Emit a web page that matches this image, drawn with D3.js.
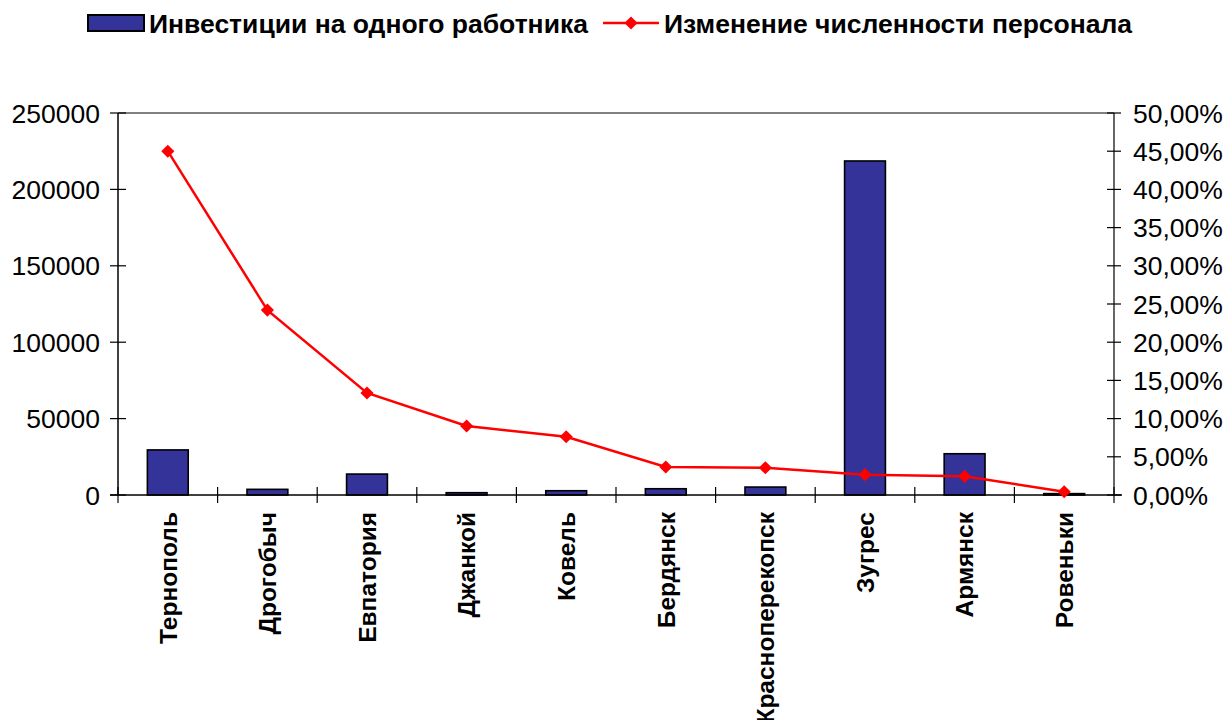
<!DOCTYPE html>
<html>
<head>
<meta charset="utf-8">
<script src="https://cdn.jsdelivr.net/npm/d3@7"></script>
<style>
body{margin:0;background:#fff;}
svg text{font-family:"Liberation Sans",Arial,sans-serif;fill:#000;}
</style>
</head>
<body>
<svg id="chart" width="1227" height="720"></svg>
<script>
// data
const cities = ['Тернополь','Дрогобыч','Евпатория','Джанкой','Ковель','Бердянск','Красноперекопск','Зугрес','Армянск','Ровеньки'];
const invest = [29500, 3700, 13700, 1500, 2800, 4100, 5200, 218600, 27000, 900];
const staffChange = [0.450, 0.242, 0.1335, 0.0903, 0.0763, 0.0366, 0.0357, 0.0266, 0.0244, 0.0043];
const leftTicks = [0, 50000, 100000, 150000, 200000, 250000];
const rightTicks = [0,0.05,0.10,0.15,0.20,0.25,0.30,0.35,0.40,0.45,0.50];

const svg = d3.select('#chart');
const m = {l:118, r:1114, t:113, b:495};

const x = d3.scaleBand().domain(cities).range([m.l, m.r]).paddingInner(0).paddingOuter(0);
const yL = d3.scaleLinear().domain([0,250000]).range([m.b, m.t]);
const yR = d3.scaleLinear().domain([0,0.5]).range([m.b, m.t]);

//plot frame top
svg.append('line').attr('x1',m.l).attr('x2',m.r).attr('y1',m.t).attr('y2',m.t)
	.attr('stroke','#808080').attr('stroke-width',2);

//bars
const bw = x.bandwidth()*0.41;
svg.append('g').selectAll('rect').data(invest).enter().append('rect')
	.attr('x',(d,i)=>x(cities[i])+x.bandwidth()/2-bw/2)
	.attr('y',d=>yL(d))
	.attr('width',bw)
	.attr('height',d=>m.b-yL(d))
	.attr('fill','#333399').attr('stroke','#000').attr('stroke-width',1.6);

//axes
const fmtL = d=>d3.format('d')(d);
const fmtR = d=>d3.format('.2f')(d*100).replace('.',',')+'%';

const gL = svg.append('g').attr('transform',`translate(${m.l},0)`);
gL.append('line').attr('y1',m.t).attr('y2',m.b).attr('stroke','#000').attr('stroke-width',1.5);
gL.selectAll('.t').data(leftTicks).enter().append('line')
	.attr('x1',-8).attr('x2',8).attr('y1',d=>yL(d)).attr('y2',d=>yL(d)).attr('stroke','#000').attr('stroke-width',1.2);
gL.selectAll('text').data(leftTicks).enter().append('text')
	.attr('x',-18).attr('y',d=>yL(d)).attr('dy','0.36em').attr('text-anchor','end')
	.style('font-size','26.5px').text(fmtL);

const gR = svg.append('g').attr('transform',`translate(${m.r},0)`);
gR.append('line').attr('y1',m.t).attr('y2',m.b).attr('stroke','#333').attr('stroke-width',1.5);
gR.selectAll('.t').data(rightTicks).enter().append('line')
	.attr('x1',-7).attr('x2',7).attr('y1',d=>yR(d)).attr('y2',d=>yR(d)).attr('stroke','#000').attr('stroke-width',1.2);
gR.selectAll('text').data(rightTicks).enter().append('text')
	.attr('x',19).attr('y',d=>yR(d)).attr('dy','0.36em').attr('text-anchor','start')
	.style('font-size','26.5px').text(fmtR);

//category axis
svg.append('line').attr('x1',m.l-8).attr('x2',m.r+8).attr('y1',m.b).attr('y2',m.b).attr('stroke','#000').attr('stroke-width',1.5);
svg.append('g').selectAll('line').data(d3.range(cities.length+1)).enter().append('line')
	.attr('x1',i=>m.l+i*x.bandwidth()).attr('x2',i=>m.l+i*x.bandwidth())
	.attr('y1',m.b-8).attr('y2',m.b+8).attr('stroke','#000').attr('stroke-width',1.2);
svg.append('g').selectAll('text').data(cities).enter().append('text')
	.attr('transform',d=>`translate(${x(d)+x.bandwidth()/2},${m.b+17}) rotate(-90)`)
	.attr('text-anchor','end').attr('dy','0.36em')
	.style('font-size','24.5px').style('font-weight','bold').text(d=>d);

//line series on right axis
const line = d3.line().x((d,i)=>x(cities[i])+x.bandwidth()/2).y(d=>yR(d));
svg.append('path').datum(staffChange).attr('d',line)
	.attr('fill','none').attr('stroke','#ff0000').attr('stroke-width',2.5);
const diamond = d3.symbol().type(d3.symbolDiamond2).size(110);
svg.append('g').selectAll('path').data(staffChange).enter().append('path')
	.attr('d',diamond)
	.attr('transform',(d,i)=>`translate(${x(cities[i])+x.bandwidth()/2},${yR(d)})`)
	.attr('fill','#ff0000');

//legend
const lg = svg.append('g');
lg.append('rect').attr('x',88).attr('y',15).attr('width',56).attr('height',16)
	.attr('fill','#333399').attr('stroke','#000').attr('stroke-width',2);
lg.append('text').attr('x',149).attr('y',23).attr('dy','0.36em')
	.style('font-size','26.5px').style('font-weight','bold').text('Инвестиции на одного работника');
lg.append('line').attr('x1',603).attr('x2',659).attr('y1',23).attr('y2',23).attr('stroke','#ff0000').attr('stroke-width',2.5);
lg.append('path').attr('d',diamond).attr('transform','translate(631,23)').attr('fill','#ff0000');
lg.append('text').attr('x',664).attr('y',23).attr('dy','0.36em')
	.style('font-size','26.5px').style('font-weight','bold').text('Изменение численности персонала');
</script>
</body>
</html>
